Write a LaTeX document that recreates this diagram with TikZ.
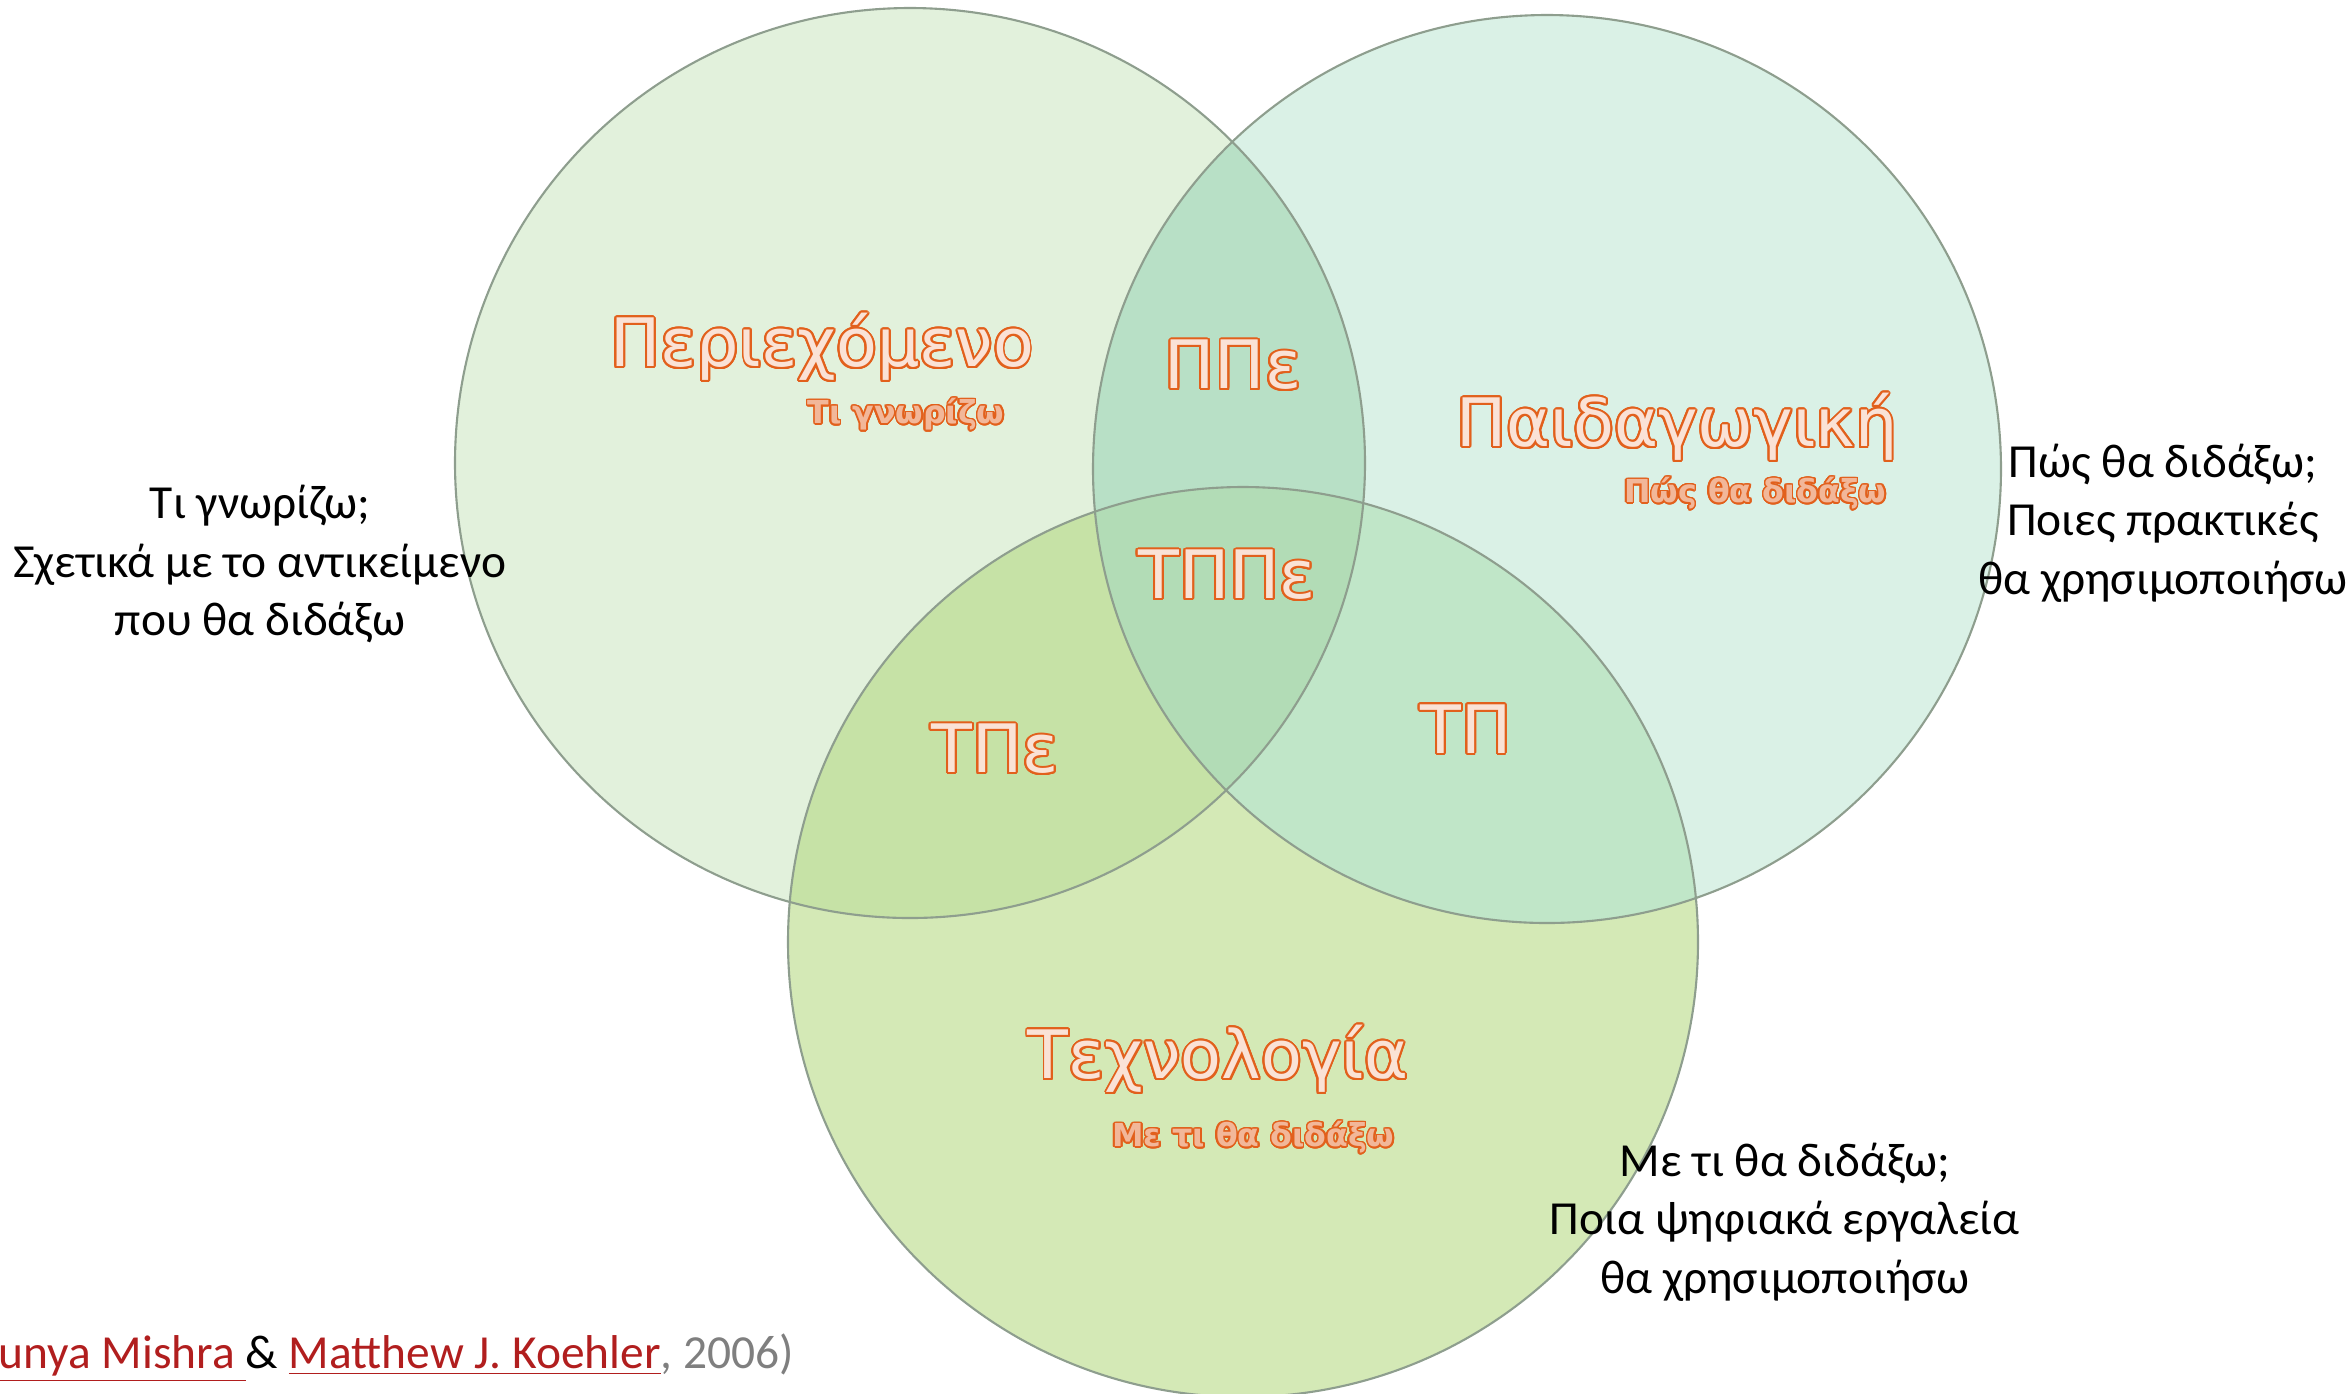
\documentclass[tikz,border=0pt]{standalone}
\usepackage{fontspec}
\setmainfont{Carlito}
\newfontfamily\lblfont{DejaVu Sans}
\usepackage{contour}
\usepackage{xcolor}
\contournumber{24}
\definecolor{contentfill}{HTML}{E2F1DC}
\definecolor{pedfill}{HTML}{DAF1E6}
\definecolor{techfill}{HTML}{D4E9B6}
\definecolor{cpfill}{HTML}{B8E0C6}
\definecolor{ctfill}{HTML}{C6E2A6}
\definecolor{ptfill}{HTML}{C0E6C8}
\definecolor{cptfill}{HTML}{B2DCB6}
\definecolor{rim}{HTML}{8E9E8E}
\definecolor{lblorange}{HTML}{E2601C}
\definecolor{citered}{HTML}{B11E1E}
\definecolor{citegray}{HTML}{7F7F7F}
\newcommand{\hollow}[1]{\contourlength{0.55pt}\contour{lblorange}{\textcolor{lblorange!18}{#1}}}
\newcommand{\hollowbold}[1]{\contourlength{0.45pt}\contour{lblorange}{\textcolor{lblorange!45}{#1}}}

\begin{document}
\begin{tikzpicture}[
  big label/.style={font=\lblfont\fontsize{19}{23}\selectfont, inner sep=0pt},
  sub label/.style={font=\lblfont\bfseries\fontsize{9}{11}\selectfont, inner sep=0pt},
  note/.style={align=center, font=\fontsize{13.5}{16.6}\selectfont, inner sep=0pt},
  rim line/.style={draw=rim, line width=0.6pt},
]
\useasboundingbox (0,0) rectangle (23.46,-13.93);

% === Circles ===
\fill[contentfill] (9.10,-4.63) circle (4.55);
\fill[pedfill] (15.47,-4.69) circle (4.54);
\fill[techfill] (12.43,-9.42) circle (4.55);

% pairwise overlaps
\begin{scope}
  \clip (9.10,-4.63) circle (4.55);
  \fill[cpfill] (15.47,-4.69) circle (4.54);
  \fill[ctfill] (12.43,-9.42) circle (4.55);
\end{scope}
\begin{scope}
  \clip (15.47,-4.69) circle (4.54);
  \fill[ptfill] (12.43,-9.42) circle (4.55);
\end{scope}
% centre
\begin{scope}
  \clip (9.10,-4.63) circle (4.55);
  \clip (15.47,-4.69) circle (4.54);
  \fill[cptfill] (12.43,-9.42) circle (4.55);
\end{scope}

\draw[rim line] (9.10,-4.63) circle (4.55);
\draw[rim line] (15.47,-4.69) circle (4.54);
\draw[rim line] (12.43,-9.42) circle (4.55);

% === Region labels ===
\node[big label] (content) at (8.22,-3.48) {\hollow{Περιεχόμενο}};
\node[sub label, anchor=east] (contentsub) at (10.05,-4.15) {\hollowbold{Τι γνωρίζω}};

\node[big label] (ped) at (16.77,-4.28) {\hollow{Παιδαγωγική}};
\node[sub label, anchor=east] (pedsub) at (18.87,-4.94) {\hollowbold{Πώς θα διδάξω}};

\node[big label] (tech) at (12.18,-10.60) {\hollow{Τεχνολογία}};
\node[sub label, anchor=east] (techsub) at (13.95,-11.38) {\hollowbold{Με τι θα διδάξω}};

\node[big label] (ppe) at (12.33,-3.66) {\hollow{ΠΠε}};
\node[big label] (tppe) at (12.27,-5.76) {\hollow{ΤΠΠε}};
\node[big label] (tpe) at (9.95,-7.50) {\hollow{ΤΠε}};
\node[big label] (tp) at (14.66,-7.30) {\hollow{ΤΠ}};

% === Side notes ===
\node[note] (knownote) at (2.60,-5.64)
  {Τι γνωρίζω;\\Σχετικά με το αντικείμενο\\που θα διδάξω};
\node[note] (pednote) at (21.63,-5.23)
  {Πώς θα διδάξω;\\Ποιες πρακτικές\\θα χρησιμοποιήσω};
\node[note] (technote) at (17.85,-12.22)
  {Με τι θα διδάξω;\\Ποια ψηφιακά εργαλεία\\θα χρησιμοποιήσω};

% === Citation ===
\node[note, anchor=west] (cite) at (-0.02,-13.58)
  {\textcolor{citered}{\underline{unya Mishra\ }}\&\ \textcolor{citered}{\underline{Matthew J. Koehler}}\textcolor{citegray}{, 2006)}};

\end{tikzpicture}
\end{document}
